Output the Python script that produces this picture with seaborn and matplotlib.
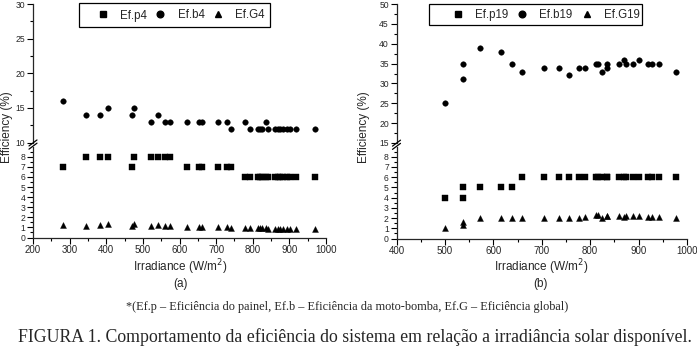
import numpy as np
import pandas as pd
import matplotlib
matplotlib.use("Agg")
import matplotlib.pyplot as plt
import seaborn as sns
from matplotlib.ticker import MultipleLocator
from matplotlib.lines import Line2D
from matplotlib.patches import Rectangle

# ---------------- data ----------------
irr4 = [281, 345, 383, 406, 470, 475, 523, 540, 560, 575, 620, 654, 661, 706, 729,
        741, 780, 792, 815, 820, 824, 836, 843, 861, 868, 874, 883, 893, 902, 918, 969]
efp4 = [7, 8, 8, 8, 7, 8, 8, 8, 8, 8, 7, 7, 7, 7, 7,
        7, 6, 6, 6, 6, 6, 6, 6, 6, 6, 6, 6, 6, 6, 6, 6]
efb4 = [16, 14, 14, 15, 14, 15, 13, 14, 13, 13, 13, 13, 13, 13, 13,
        12, 13, 12, 12, 12, 12, 13, 12, 12, 12, 12, 12, 12, 12, 12, 12]
efg4 = [1.2, 1.1, 1.2, 1.3, 1.1, 1.3, 1.1, 1.2, 1.1, 1.1, 1.0, 1.0, 1.0, 1.0, 1.0,
        0.9, 0.9, 0.9, 0.9, 0.9, 0.9, 0.9, 0.8, 0.8, 0.8, 0.8, 0.8, 0.8, 0.8, 0.8, 0.8]

irr19 = [501, 537, 537, 572, 615, 638, 660, 704, 736, 757, 777, 790, 813, 817, 825,
         835, 835, 860, 870, 875, 889, 901, 920, 928, 943, 977]
efp19 = [4, 5, 4, 5, 5, 5, 6, 6, 6, 6, 6, 6, 6, 6, 6,
         6, 6, 6, 6, 6, 6, 6, 6, 6, 6, 6]
efb19 = [25, 35, 31, 39, 38, 35, 33, 34, 34, 32, 34, 34, 35, 35, 33,
         35, 34, 35, 36, 35, 35, 36, 35, 35, 35, 33]
efg19 = [1.0, 1.6, 1.3, 2.0, 2.0, 2.0, 2.0, 2.0, 2.0, 2.0, 2.0, 2.1, 2.3, 2.3, 2.0,
         2.2, 2.2, 2.2, 2.1, 2.2, 2.2, 2.2, 2.1, 2.1, 2.1, 2.0]

labels4 = ["Ef.p4", "Ef.b4", "Ef.G4"]
labels19 = ["Ef.p19", "Ef.b19", "Ef.G19"]
panel_tags = ["(a)", "(b)"]
xlabel = "Irradiance (W/m$^2$)"
ylabel = "Efficiency (%)"
caption1 = "*(Ef.p \u2013 Efici\u00eancia do painel, Ef.b \u2013 Efici\u00eancia da moto-bomba, Ef.G \u2013 Efici\u00eancia global)"
caption2 = "FIGURA 1. Comportamento da efici\u00eancia do sistema em rela\u00e7\u00e3o a irradi\u00e2ncia solar dispon\u00edvel."

# ---------------- style ----------------
sns.set_theme(style="ticks")
plt.rcParams["font.family"] = ["Liberation Sans", "DejaVu Sans"]

W, H = 697, 348
fig = plt.figure(figsize=(W / 100, H / 100), dpi=100)

def fx(px):
    return px / W

def fy(py):
    return 1 - py / H

markers = ["s", "o", "^"]
sizes = [13, 16, 18]

def make_panel(x0, x1, top_ytop, top_ybot, bot_ytop, bot_ybot,
               irr, series, labels, xlim, top_lim, top_major, top_minor,
               bot_lim, xmaj, xmin, leg_box, leg_start, colspace):
    ax_t = fig.add_axes([fx(x0), fy(top_ybot), fx(x1 - x0), (top_ybot - top_ytop) / H])
    ax_b = fig.add_axes([fx(x0), fy(bot_ybot), fx(x1 - x0), (bot_ybot - bot_ytop) / H])
    for ax in (ax_t, ax_b):
        for s, m, sz, lab in zip(series, markers, sizes, labels):
            df = pd.DataFrame({"x": irr, "y": s})
            sns.scatterplot(data=df, x="x", y="y", marker=m, s=sz, color="black",
                            edgecolor="black", linewidth=0.3, ax=ax, legend=False)
        ax.set_xlim(*xlim)
        ax.set_xlabel("")
        ax.set_ylabel("")
        for sp in ("top", "right"):
            ax.spines[sp].set_visible(False)
        ax.spines["left"].set_linewidth(0.9)
        ax.spines["bottom"].set_linewidth(0.9)
        ax.tick_params(axis="both", which="major", direction="out", length=4,
                       width=0.8, color="black", pad=1.5)
        ax.tick_params(axis="both", which="minor", direction="out", length=2,
                       width=0.8, color="black")
        ax.tick_params(axis="y", labelsize=6.2)
        ax.tick_params(axis="x", labelsize=7)
    ax_t.set_ylim(*top_lim)
    ax_t.yaxis.set_major_locator(MultipleLocator(top_major))
    ax_t.yaxis.set_minor_locator(MultipleLocator(top_minor))
    ax_t.spines["bottom"].set_visible(False)
    ax_t.tick_params(axis="x", which="both", bottom=False, labelbottom=False)

    ax_b.set_ylim(*bot_lim)
    ax_b.set_yticks(np.arange(0, 9, 1))
    ax_b.set_yticks(np.arange(0.5, 8.6, 0.5), minor=True)
    ax_b.xaxis.set_major_locator(MultipleLocator(xmaj))
    ax_b.xaxis.set_minor_locator(MultipleLocator(xmin))
    ax_b.set_xticks(np.arange(xlim[0], xlim[1] + 1, xmaj))

    # break marks on the left spine
    yb = (top_ybot + bot_ytop) / 2
    for dy in (-1.6, 1.6):
        fig.add_artist(Line2D([fx(x0 - 4), fx(x0 + 4)],
                              [fy(yb + dy + 3), fy(yb + dy - 3)],
                              color="black", lw=0.9))

    # legend frame
    bx0, by0, bx1, by1 = leg_box
    fig.add_artist(Rectangle((fx(bx0), fy(by1)), fx(bx1 - bx0), (by1 - by0) / H,
                             transform=fig.transFigure, fill=False,
                             edgecolor="black", lw=0.9))
    handles = [Line2D([], [], marker=m, ls="", color="black", markersize=ms)
               for m, ms in zip(markers, [4.0, 4.8, 4.8])]
    fig.legend(handles, labels, loc="center left", ncol=3,
               bbox_to_anchor=(fx(leg_start), fy((by0 + by1) / 2 + 0.5)),
               frameon=False, fontsize=8.3, handlelength=1.0, handletextpad=1.0,
               columnspacing=colspace, borderpad=0, borderaxespad=0)
    return ax_t, ax_b

make_panel(33, 326, 4, 142.5, 146.6, 237.5,
           irr4, [efp4, efb4, efg4], labels4, (200, 1000),
           (10, 30), 5, 2.5, (0, 9), 100, 50, (79, 3, 270, 27), 97, 0.65)
make_panel(396.5, 687, 4, 143, 146.5, 238.5,
           irr19, [efp19, efb19, efg19], labels19, (400, 1000),
           (15, 50), 5, 2.5, (0, 9), 100, 50, (429, 4, 642, 25), 452, 0.7)

# axis labels
for cx, cy in ((7, 127), (364, 127)):
    fig.text(fx(cx), fy(cy), ylabel, rotation=90, ha="center", va="center", fontsize=8.5)
for cx, tag in ((180, panel_tags[0]), (541, panel_tags[1])):
    fig.text(fx(cx), fy(267), xlabel, ha="center", va="center", fontsize=8.5)
    fig.text(fx(cx), fy(284), tag, ha="center", va="center", fontsize=8.5)

fig.text(fx(347), fy(307), caption1, ha="center", va="center", fontsize=8.85,
         family=["Liberation Serif", "DejaVu Serif"])
fig.text(fx(355), fy(337), caption2, ha="center", va="center", fontsize=12.75,
         family=["Liberation Serif", "DejaVu Serif"])

fig.savefig("out.png", dpi=100)
